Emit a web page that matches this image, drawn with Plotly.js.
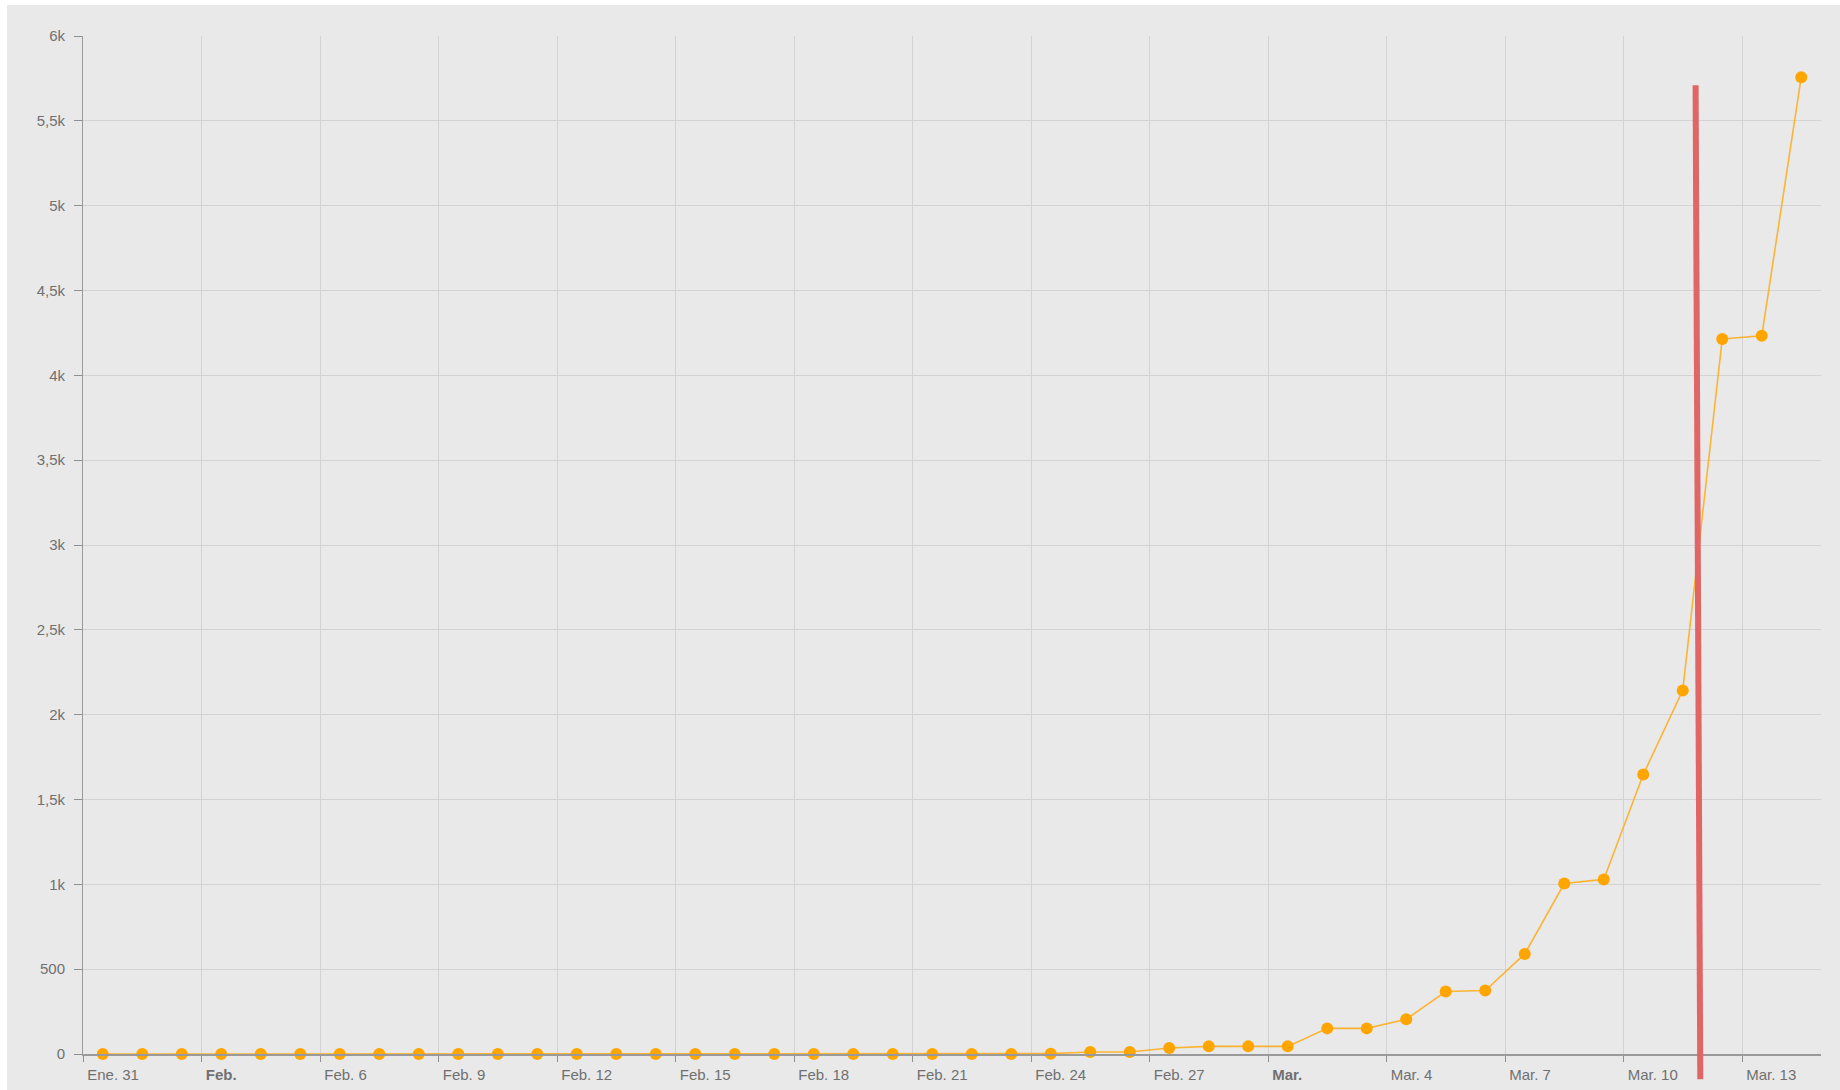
<!DOCTYPE html>
<html>
<head>
<meta charset="utf-8">
<script src="https://cdn.plot.ly/plotly-3.0.1.min.js"></script>
<style>
  html, body { margin: 0; padding: 0; background: #ffffff; width: 1840px; height: 1090px; overflow: hidden; }
  #chart { position: absolute; left: 7px; top: 5px; width: 1833px; height: 1085px; }
</style>
</head>
<body>
<div id="chart"></div>
<script>
// ---- data ----
const dates = [
  '2020-01-31 12:00', '2020-02-01 12:00', '2020-02-02 12:00', '2020-02-03 12:00', '2020-02-04 12:00',
  '2020-02-05 12:00', '2020-02-06 12:00', '2020-02-07 12:00', '2020-02-08 12:00', '2020-02-09 12:00',
  '2020-02-10 12:00', '2020-02-11 12:00', '2020-02-12 12:00', '2020-02-13 12:00', '2020-02-14 12:00',
  '2020-02-15 12:00', '2020-02-16 12:00', '2020-02-17 12:00', '2020-02-18 12:00', '2020-02-19 12:00',
  '2020-02-20 12:00', '2020-02-21 12:00', '2020-02-22 12:00', '2020-02-23 12:00', '2020-02-24 12:00',
  '2020-02-25 12:00', '2020-02-26 12:00', '2020-02-27 12:00', '2020-02-28 12:00', '2020-02-29 12:00',
  '2020-03-01 12:00', '2020-03-02 12:00', '2020-03-03 12:00', '2020-03-04 12:00', '2020-03-05 12:00',
  '2020-03-06 12:00', '2020-03-07 12:00', '2020-03-08 12:00', '2020-03-09 12:00', '2020-03-10 12:00',
  '2020-03-11 12:00', '2020-03-12 12:00', '2020-03-13 12:00', '2020-03-14 12:00'
];
const casos = [
  0, 0, 0, 0, 0,
  0, 0, 0, 0, 0,
  0, 0, 0, 0, 0,
  0, 0, 0, 0, 0,
  0, 0, 0, 0, 2,
  12, 12, 35, 45, 45,
  45, 151, 151, 205, 368,
  374, 590, 1005, 1029, 1647,
  2143, 4214, 4233, 5757
];
const tickDates = [
  '2020-01-31', '2020-02-03', '2020-02-06', '2020-02-09', '2020-02-12',
  '2020-02-15', '2020-02-18', '2020-02-21', '2020-02-24', '2020-02-27',
  '2020-03-01', '2020-03-04', '2020-03-07', '2020-03-10', '2020-03-13'
];
const tickLabels = [
  'Ene. 31', '<b>Feb.</b>', 'Feb. 6', 'Feb. 9', 'Feb. 12',
  'Feb. 15', 'Feb. 18', 'Feb. 21', 'Feb. 24', 'Feb. 27',
  '<b>Mar.</b>', 'Mar. 4', 'Mar. 7', 'Mar. 10', 'Mar. 13'
];
const xRange = ['2020-01-31', '2020-03-15'];
const yRange = [0, 6000];
// hand-drawn red marker line (annotation)
const redLine = { x0: '2020-03-11 22:39', x1: '2020-03-11 19:48', y0: -0.0248, y1: 0.9516 };

const trace = {
  type: 'scatter',
  mode: 'lines+markers',
  x: dates,
  y: casos,
  line: { color: 'rgba(255,170,20,0.85)', width: 1.6 },
  marker: { color: '#ffa500', size: 12 },
  cliponaxis: false,
  hoverinfo: 'x+y'
};

const tickFont = { family: 'Liberation Sans, Arial, sans-serif', size: 15, color: '#707070' };

const layout = {
  width: 1833,
  height: 1085,
  margin: { l: 76, r: 19, t: 31, b: 36 },
  paper_bgcolor: '#e9e9e9',
  plot_bgcolor: '#e9e9e9',
  showlegend: false,
  separators: ',.',
  font: tickFont,
  xaxis: {
    type: 'date',
    range: xRange,
    tickmode: 'array',
    tickvals: tickDates,
    ticktext: tickLabels,
    ticks: 'outside',
    ticklen: 6,
    tickcolor: '#8f8f8f',
    tickwidth: 1,
    ticklabelposition: 'outside right',
    ticklabelshift: 3,
    ticklabelstandoff: 6,
    showgrid: true,
    gridcolor: '#d3d3d3',
    gridwidth: 1,
    showline: true,
    linecolor: '#9a9a9a',
    linewidth: 1.5,
    zeroline: false,
    tickfont: tickFont,
    fixedrange: true
  },
  yaxis: {
    range: yRange,
    tick0: 0,
    dtick: 500,
    tickformat: '~s',
    ticks: 'outside',
    ticklen: 8,
    tickcolor: '#8f8f8f',
    ticklabelstandoff: 6,
    showgrid: true,
    gridcolor: '#d3d3d3',
    gridwidth: 1,
    showline: true,
    linecolor: '#9a9a9a',
    linewidth: 1,
    zeroline: false,
    tickfont: tickFont,
    fixedrange: true
  },
  shapes: [{
    type: 'line',
    xref: 'x', yref: 'paper',
    x0: redLine.x0, x1: redLine.x1, y0: redLine.y0, y1: redLine.y1,
    line: { color: '#e06565', width: 6 },
    layer: 'above'
  }]
};

Plotly.newPlot('chart', [trace], layout, { displayModeBar: false, staticPlot: true });
</script>
</body>
</html>
